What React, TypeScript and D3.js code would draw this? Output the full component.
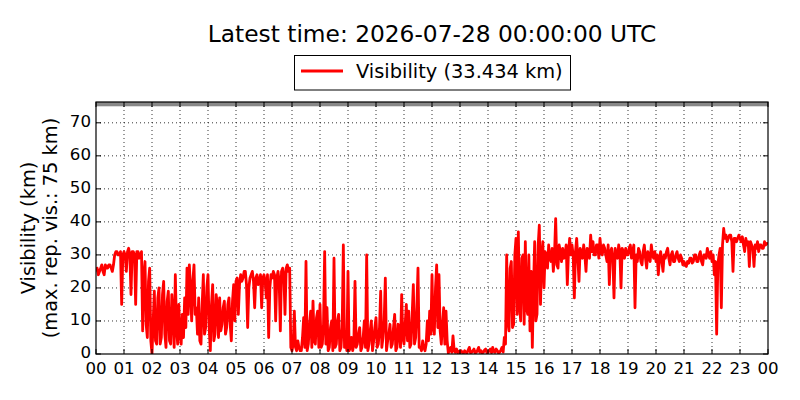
import React from "react";
import * as d3 from "d3";

// 2.5-minute visibility samples (km), hours 00-06
const vis00to06 = [
  25, 26, 24, 25, 26, 27, 25, 24, 27, 26, 26, 27, 27, 26, 25, 27, 30, 31, 31, 30, 30, 31, 15, 30,
  31, 30, 25, 31, 32, 30, 18, 31, 31, 30, 15, 31, 31, 29, 30, 31, 7, 24, 28, 9, 5, 22, 26, 4,
  0, 10, 19, 4, 3, 17, 20, 3, 5, 18, 22, 6, 2, 16, 19, 4, 3, 18, 12, 2, 24, 8, 3, 15,
  6, 3, 12, 5, 17, 8, 26, 12, 27, 20, 10, 22, 27, 12, 14, 6, 17, 4, 3, 15, 24, 6, 8, 20,
  24, 8, 1, 15, 21, 4, 6, 18, 15, 5, 17, 7, 9, 14, 16, 6, 8, 15, 17, 9, 4, 16, 21, 10,
  22, 23, 12, 21, 24, 22, 23, 25, 25, 21, 8, 20, 23, 24, 25, 22, 14, 23, 24, 21, 22, 24, 14, 23,
];
// hours 06-12
const vis06to12 = [
  24, 22, 17, 24, 5, 20, 24, 23, 25, 24, 10, 23, 25, 22, 7, 25, 26, 24, 12, 26, 27, 25, 26, 2,
  1, 3, 13, 2, 1, 4, 2, 1, 1, 5, 11, 2, 28, 1, 3, 9, 13, 2, 16, 4, 3, 11, 13, 2,
  15, 2, 3, 9, 31, 3, 14, 1, 2, 8, 10, 1, 29, 2, 3, 10, 12, 1, 2, 8, 33, 2, 5, 1,
  25, 1, 2, 5, 1, 3, 22, 2, 3, 6, 8, 1, 2, 5, 10, 2, 30, 1, 3, 7, 10, 1, 4, 8,
  11, 2, 3, 8, 19, 2, 5, 10, 23, 1, 4, 6, 9, 2, 3, 8, 12, 1, 2, 9, 7, 2, 18, 5,
  3, 9, 15, 4, 13, 2, 3, 12, 21, 3, 5, 14, 26, 2, 2, 1, 4, 2, 1, 3, 10, 4, 13, 6,
];
// hours 12-18
const vis12to18 = [
  24, 8, 6, 20, 27, 8, 24, 7, 3, 9, 14, 3, 13, 4, 0.3, 1.5, 2, 0.5, 5.5, 1, 0.5, 1.5, 0.4, 0.8,
  0.3, 1, 0.5, 0.3, 1, 0.5, 0.3, 1.2, 2, 0.4, 0.5, 1, 1.5, 0.3, 0.5, 1.2, 2, 0.5, 1, 0.3, 0.5, 1.2, 1.5, 0.4,
  0.5, 1, 1.5, 0.4, 2, 0.8, 0.5, 1.5, 1, 0.3, 0.5, 1.2, 2, 0.6, 5, 3, 30, 10, 7, 26, 28, 8, 9, 30,
  35, 12, 37, 15, 10, 29, 30, 9, 34, 14, 12, 30, 7, 25, 2, 20, 34, 10, 12, 33, 39, 15, 30, 34,
  20, 31, 30, 26, 33, 29, 28, 32, 25, 30, 41, 27, 26, 33, 31, 28, 32, 29, 30, 33, 21, 31, 35, 30,
  33, 30, 17, 31, 35, 29, 22, 32, 31, 29, 33, 30, 25, 32, 31, 29, 36, 31, 34, 30, 30, 33, 33, 29,
];
// hours 18-24 (last value is the latest reading)
const vis18to24 = [
  35, 31, 30, 33, 32, 30, 28, 33, 21, 31, 32, 29, 17, 32, 30, 29, 33, 31, 20, 32, 31, 29, 32, 30,
  30, 32, 33, 29, 31, 33, 14, 30, 28, 32, 31, 28, 27, 31, 33, 29, 26, 31, 30, 28, 33, 30, 29, 31,
  28, 30, 24, 29, 31, 28, 25, 30, 29, 31, 32, 29, 27, 30, 31, 28, 28, 30, 31, 29, 28, 30, 29, 27,
  28, 27, 26.5, 28, 27.5, 29, 29, 27.5, 28, 30, 30, 28, 28, 30, 31, 28, 27, 30, 30, 29, 32, 30, 29, 31,
  28, 30, 24, 28, 6, 27, 30, 32, 14, 33, 38, 35, 36, 34, 35, 36, 36, 34, 25, 35, 35, 34, 35, 36,
  35, 34, 35.5, 33, 31, 35, 33, 34, 26.5, 34, 33, 32, 26.5, 33, 32, 34, 31, 33, 33, 32, 32, 34, 33, 33.5,
  33.434,
];

const hourTicks = d3.range(0, 25);
const hourLabels = hourTicks.map((h) => String(h % 24).padStart(2, "0"));
const yTicks = [0, 10, 20, 30, 40, 50, 60, 70];
const maxRepVis = 75;
const latest = 33.434;

const visibility = [...vis00to06, ...vis06to12, ...vis12to18, ...vis18to24];
const stepHours = 2.5 / 60;

const W = 800, H = 400;
const L = 96, R = 768, T = 102, B = 354;
const FONT = "DejaVu Sans, sans-serif";

export default function App() {
  const x = d3.scaleLinear().domain([0, 24]).range([L, R]);
  const y = d3.scaleLinear().domain([0, 76.3]).range([B, T]);
  const line = d3
    .line<number>()
    .x((_, i) => x(i * stepHours))
    .y((d) => y(d));
  const tickLen = 5;
  return (
    <div style={{ position: "absolute", left: 0, top: 0 }}>
      <svg width={W} height={H} style={{ display: "block", background: "#fff" }} fontFamily={FONT}>
        <defs>
          <clipPath id="plotclip">
            <rect x={L} y={T} width={R - L} height={B - T} />
          </clipPath>
        </defs>
        <text x={(L + R) / 2} y={42} textAnchor="middle" fontSize={23.3} fill="#000">
          Latest time: 2026-07-28 00:00:00 UTC
        </text>
        {/* legend */}
        <rect x={294.5} y={55.5} width={276} height={34.5} fill="#fff" stroke="#000" strokeWidth={1} />
        <line x1={301} x2={343} y1={71} y2={71} stroke="#ff0000" strokeWidth={2.8} />
        <text x={356} y={78} fontSize={19.4} fill="#000">
          {`Visibility (${latest.toFixed(3)} km)`}
        </text>
        {/* max rep vis band */}
        <rect x={L} y={T} width={R - L} height={y(maxRepVis) - T} fill="#888" />
        {/* grid */}
        {hourTicks.slice(1, 24).map((h) => (
          <line key={"gx" + h} x1={x(h)} x2={x(h)} y1={T} y2={B} stroke="#000" strokeWidth={0.8} strokeDasharray="1,3" />
        ))}
        {yTicks.slice(1).map((v) => (
          <line key={"gy" + v} x1={L} x2={R} y1={y(v)} y2={y(v)} stroke="#000" strokeWidth={0.8} strokeDasharray="1,3" />
        ))}
        {/* data */}
        <path
          d={line(visibility) || ""}
          fill="none"
          stroke="#ff0000"
          strokeWidth={2.8}
          strokeLinejoin="round"
          clipPath="url(#plotclip)"
        />
        {/* ticks */}
        {hourTicks.map((h) => (
          <g key={"tx" + h}>
            <line x1={x(h)} x2={x(h)} y1={B} y2={B - tickLen} stroke="#000" strokeWidth={1} />
            <line x1={x(h)} x2={x(h)} y1={T} y2={T + tickLen} stroke="#000" strokeWidth={1} />
            <text x={x(h)} y={374} textAnchor="middle" fontSize={16.67} fill="#000">
              {hourLabels[h]}
            </text>
          </g>
        ))}
        {yTicks.map((v) => (
          <g key={"ty" + v}>
            <line x1={L} x2={L + tickLen} y1={y(v)} y2={y(v)} stroke="#000" strokeWidth={1} />
            <line x1={R} x2={R - tickLen} y1={y(v)} y2={y(v)} stroke="#000" strokeWidth={1} />
            <text x={91} y={y(v) - 1.5} textAnchor="end" dominantBaseline="central" fontSize={16.67} fill="#000">
              {v}
            </text>
          </g>
        ))}
        <rect x={L} y={T} width={R - L} height={B - T} fill="none" stroke="#000" strokeWidth={1.2} />
        {/* y label */}
        <g transform={`translate(28, ${(T + B) / 2}) rotate(-90)`}>
          <text x={0} y={0} textAnchor="middle" dominantBaseline="central" fontSize={19.4} fill="#000">
            Visibility (km)
          </text>
        </g>
        <g transform={`translate(50, ${(T + B) / 2}) rotate(-90)`}>
          <text x={0} y={0} textAnchor="middle" dominantBaseline="central" fontSize={19.4} fill="#000">
            (max. rep. vis.: 75 km)
          </text>
        </g>
      </svg>
    </div>
  );
}
